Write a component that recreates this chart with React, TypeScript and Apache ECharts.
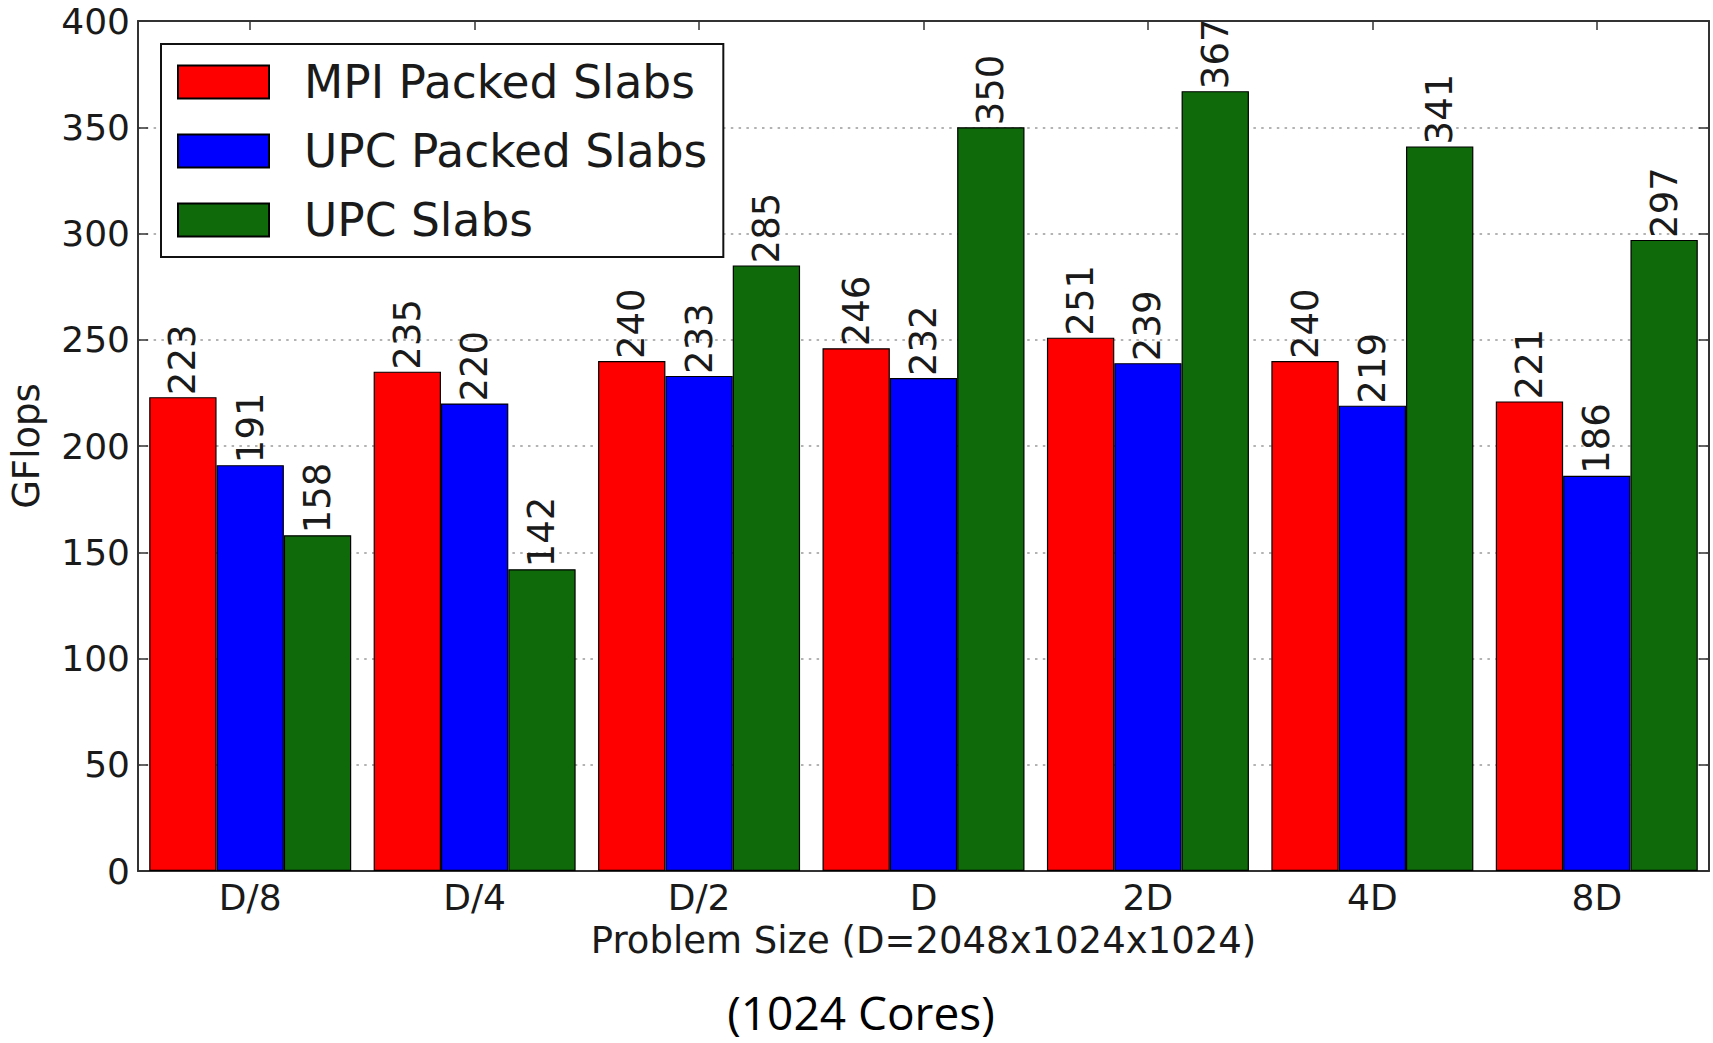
import React, { useEffect, useRef } from "react";
import * as echarts from "echarts";

// Problem sizes along the x axis
const categories = ["D/8", "D/4", "D/2", "D", "2D", "4D", "8D"];

// GFlops per implementation
const mpiPacked = [223, 235, 240, 246, 251, 240, 221];
const upcPacked = [191, 220, 233, 232, 239, 219, 186];
const upcSlabs = [158, 142, 285, 350, 367, 341, 297];

const seriesNames = ["MPI Packed Slabs", "UPC Packed Slabs", "UPC Slabs"];
const seriesColors = ["#fe0000", "#0000fe", "#0f6b0a"];

const yTicks = { min: 0, max: 400, interval: 50 };

const FONT = "DejaVu Sans";
const INK = "#1a1a1a";
const FRAME = "#333333";

export default function App() {
  const ref = useRef<HTMLDivElement>(null);

  useEffect(() => {
    if (!ref.current) return;
    const chart = echarts.init(ref.current, null, { renderer: "svg" });

    const data = [mpiPacked, upcPacked, upcSlabs];

    const frameLine = { show: true, onZero: false, lineStyle: { color: FRAME, width: 2 } };

    chart.setOption({
      animation: false,
      backgroundColor: "#ffffff",
      grid: { left: 137, right: 4, top: 21, bottom: 172, containLabel: false },
      legend: {
        orient: "vertical",
        left: 161,
        top: 44,
        padding: [15, 16, 14, 16],
        itemWidth: 91,
        itemHeight: 33,
        itemGap: 23,
        icon: "rect",
        borderColor: "#111",
        borderWidth: 2,
        backgroundColor: "#ffffff",
        textStyle: {
          fontFamily: FONT,
          fontSize: 45.5,
          lineHeight: 33,
          color: INK,
          padding: [0, 0, 0, 30],
        },
        data: seriesNames,
      },
      xAxis: [
        {
          type: "category",
          data: categories,
          position: "bottom",
          axisLine: frameLine,
          axisTick: { show: true, inside: true, alignWithLabel: true, length: 9, lineStyle: { color: FRAME, width: 1.5 } },
          axisLabel: { fontFamily: FONT, fontSize: 36, color: INK, margin: 8, interval: 0 },
          splitLine: { show: false },
          name: "Problem Size (D=2048x1024x1024)",
          nameLocation: "middle",
          nameGap: 51,
          nameTextStyle: { fontFamily: FONT, fontSize: 37, color: INK, verticalAlign: "top" },
        },
        {
          type: "category",
          data: categories,
          position: "top",
          axisLine: frameLine,
          axisTick: { show: true, inside: true, alignWithLabel: true, length: 9, lineStyle: { color: FRAME, width: 1.5 } },
          axisLabel: { show: false },
          splitLine: { show: false },
        },
      ],
      yAxis: [
        {
          type: "value",
          position: "left",
          min: yTicks.min,
          max: yTicks.max,
          interval: yTicks.interval,
          axisLine: frameLine,
          axisTick: { show: true, inside: true, length: 10, lineStyle: { color: FRAME, width: 1.5 } },
          axisLabel: { fontFamily: FONT, fontSize: 36, color: INK, margin: 8 },
          splitLine: { show: true, lineStyle: { color: "#9a9a9a", width: 1.5, type: [2.5, 5.3] } },
          name: "GFlops",
          nameLocation: "middle",
          nameGap: 93,
          nameTextStyle: { fontFamily: FONT, fontSize: 37, color: INK },
        },
        {
          type: "value",
          position: "right",
          min: yTicks.min,
          max: yTicks.max,
          interval: yTicks.interval,
          axisLine: frameLine,
          axisTick: { show: true, inside: true, length: 10, lineStyle: { color: FRAME, width: 1.5 } },
          axisLabel: { show: false },
          splitLine: { show: false },
        },
      ],
      series: seriesNames.map((name, i) => ({
        name,
        type: "bar",
        xAxisIndex: 0,
        yAxisIndex: 0,
        data: data[i],
        barGap: "0%",
        barCategoryGap: "10%",
        itemStyle: { color: seriesColors[i], borderColor: "#000", borderWidth: 1.2 },
        label: {
          show: true,
          position: "top",
          distance: 2,
          rotate: 90,
          align: "left",
          verticalAlign: "middle",
          fontFamily: FONT,
          fontSize: 37,
          color: INK,
        },
      })),
      graphic: [
        {
          type: "text",
          x: 861,
          y: 1012,
          style: {
            text: "(1024 Cores)",
            fontFamily: "Open Sans",
            fontSize: 46,
            lineHeight: 46,
            fill: "#000",
            textAlign: "center",
            textVerticalAlign: "middle",
          },
        },
      ],
    });

    return () => chart.dispose();
  }, []);

  return (
    <div
      ref={ref}
      style={{ position: "absolute", left: 0, top: 0, width: 1713, height: 1043 }}
    />
  );
}
